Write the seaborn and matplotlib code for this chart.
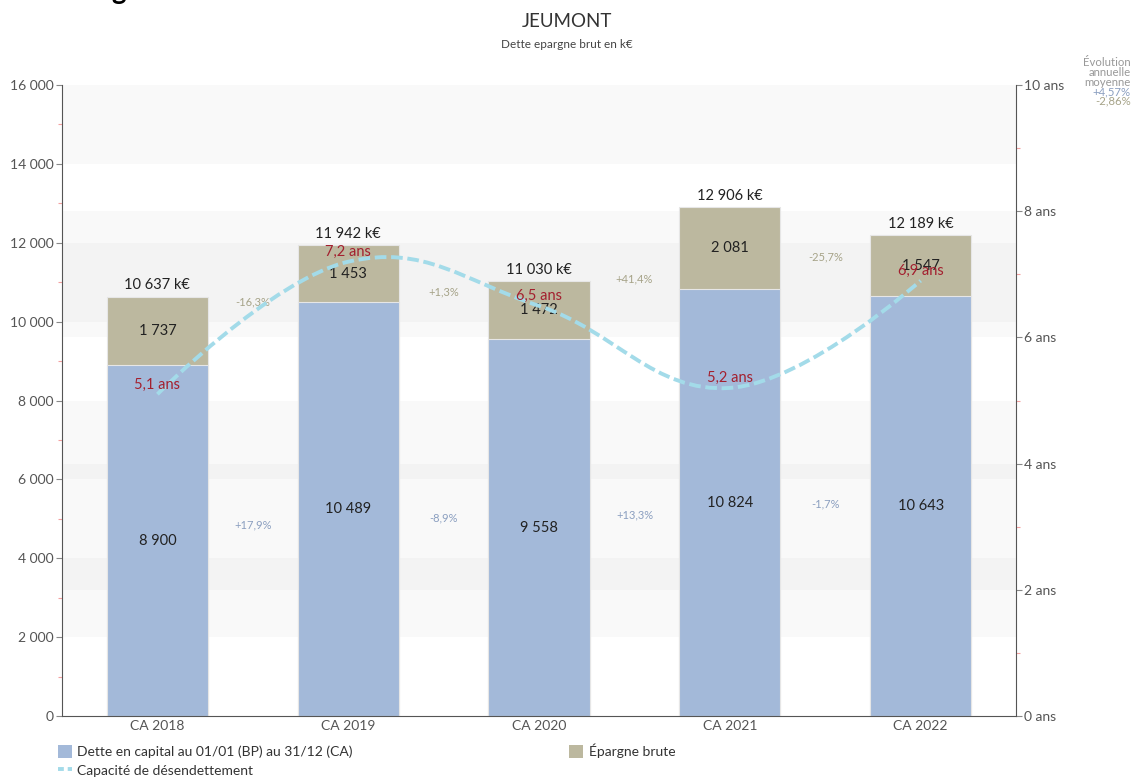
import numpy as np
import matplotlib
matplotlib.use('Agg')
import matplotlib.pyplot as plt
import seaborn as sns
from matplotlib.path import Path
from matplotlib.patches import PathPatch, Patch
from matplotlib.lines import Line2D
from matplotlib.ticker import FuncFormatter, MultipleLocator

# données
annees = ['CA 2018', 'CA 2019', 'CA 2020', 'CA 2021', 'CA 2022']
dette = [8900, 10489, 9558, 10824, 10643]
epargne = [1737, 1453, 1472, 2081, 1547]
totaux = ['10 637 k€', '11 942 k€', '11 030 k€', '12 906 k€', '12 189 k€']
capacite = [5.1, 7.2, 6.5, 5.2, 6.9]
evol_dette = [17.9, -8.9, 13.3, -1.7]
evol_epargne = [-16.3, 1.3, 41.4, -25.7]
moy_dette = 4.57
moy_epargne = -2.86

BLEU = '#a3b9d9'
BEIGE = '#bcb89f'
CYAN = '#a3dbe9'
ROUGE = '#a3202f'
TXT_BLEU = '#8b9fc0'
TXT_BEIGE = '#a6a388'

sns.set_style('white')
plt.rcParams['font.family'] = ['Lato', 'DejaVu Sans']

fig = plt.figure(figsize=(11.34, 7.8), dpi=100)
ax = fig.add_axes([0.0547, 0.082, 0.8413, 0.809])

def fmt(v):
    return f'{v:,.0f}'.replace(',', ' ')

def pct(v, d=1):
    return (f'{v:+.{d}f}%').replace('.', ',')

# bandes de fond (axe gauche tous les 2000, axe droit tous les 2 ans)
for a in [2000, 6000, 10000, 14000]:
    ax.axhspan(a, a + 2000, color='black', alpha=0.022, lw=0, zorder=0)
k = 16000 / 10
for a in [2, 6]:
    ax.axhspan(a * k, (a + 2) * k, color='black', alpha=0.022, lw=0, zorder=0)

total = np.array(dette) + np.array(epargne)
sns.barplot(x=annees, y=total, color=BEIGE, width=0.53, saturation=1,
            edgecolor='#e6e6e6', linewidth=0.8, ax=ax, zorder=2)
sns.barplot(x=annees, y=dette, color=BLEU, width=0.53, saturation=1,
            edgecolor='#e6e6e6', linewidth=0.8, ax=ax, zorder=2)

ax.set_xlim(-0.5, 4.5)
ax.set_ylim(0, 16000)
ax.yaxis.set_major_locator(MultipleLocator(2000))
ax.yaxis.set_minor_locator(MultipleLocator(1000))
ax.yaxis.set_major_formatter(FuncFormatter(lambda v, p: fmt(v)))
ax.tick_params(axis='y', which='major', length=4, color='#888', labelcolor='#555', labelsize=10, pad=2)
ax.tick_params(axis='y', which='minor', length=3, color='#f4a0a0', width=0.8)
ax.tick_params(axis='x', length=0, labelcolor='#555', labelsize=10, pad=3)
ax.set_xlabel('')
ax.set_ylabel('')
for s in ['top', 'right']:
    ax.spines[s].set_visible(False)
ax.spines['left'].set_color('#555')
ax.spines['bottom'].set_color('#555')

# étiquettes
for i in range(5):
    ax.text(i, dette[i] / 2, fmt(dette[i]), ha='center', va='center', fontsize=10.5, color='#222', zorder=5)
    ax.text(i, dette[i] + epargne[i] / 2, fmt(epargne[i]), ha='center', va='center', fontsize=10.5, color='#222', zorder=5)
    ax.annotate(totaux[i], (i, total[i]), xytext=(0, 3), textcoords='offset points',
                ha='center', va='bottom', fontsize=10.5, color='#222')
for i in range(4):
    yb = (dette[i] / 2 + dette[i + 1] / 2) / 2
    ye = (dette[i] + epargne[i] / 2 + dette[i + 1] + epargne[i + 1] / 2) / 2
    ax.text(i + 0.5, yb, pct(evol_dette[i]), ha='center', va='center', fontsize=8, color=TXT_BLEU)
    ax.text(i + 0.5, ye, pct(evol_epargne[i]), ha='center', va='center', fontsize=8, color=TXT_BEIGE)

# axe droit : capacité de désendettement (courbe lissée type spline)
ax2 = ax.twinx()
ax2.set_ylim(0, 10)
ax2.yaxis.set_major_locator(MultipleLocator(2))
ax2.yaxis.set_minor_locator(MultipleLocator(1))
ax2.yaxis.set_major_formatter(FuncFormatter(lambda v, p: f'{v:.0f} ans'))
ax2.tick_params(axis='y', which='major', length=4, color='#888', labelcolor='#555', labelsize=10, pad=2)
ax2.tick_params(axis='y', which='minor', length=3, color='#f4a0a0', width=0.8)
for s in ['top', 'left', 'bottom']:
    ax2.spines[s].set_visible(False)
ax2.spines['right'].set_color('#555')

xs = np.arange(len(capacite), dtype=float)
ys = np.array(capacite, dtype=float)
sm, den = 1.5, 2.5
lc, rc = {}, {}
for i in range(1, len(xs) - 1):
    lcx = (sm * xs[i] + xs[i - 1]) / den
    lcy = (sm * ys[i] + ys[i - 1]) / den
    rcx = (sm * xs[i] + xs[i + 1]) / den
    rcy = (sm * ys[i] + ys[i + 1]) / den
    corr = (rcy - lcy) * (rcx - xs[i]) / (rcx - lcx) + ys[i] - rcy
    lc[i] = (lcx, lcy + corr)
    rc[i] = (rcx, rcy + corr)
verts = [(xs[0], ys[0])]
codes = [Path.MOVETO]
for i in range(1, len(xs)):
    verts += [rc.get(i - 1, (xs[i - 1], ys[i - 1])), lc.get(i, (xs[i], ys[i])), (xs[i], ys[i])]
    codes += [Path.CURVE4] * 3
ax2.add_patch(PathPatch(Path(verts, codes), fill=False, edgecolor=CYAN, lw=2.8,
                        linestyle=(0, (3, 1.2)), zorder=3))
for i in range(5):
    ax2.annotate(f'{capacite[i]:.1f} ans'.replace('.', ','), (i, capacite[i]), xytext=(0, 7),
                 textcoords='offset points', ha='center', va='center', fontsize=10.5, color=ROUGE)

# titres
fig.text(0.5, 0.972, 'JEUMONT', ha='center', va='center', fontsize=13.5, color='#333')
fig.text(0.5, 0.943, 'Dette epargne brut en k€', ha='center', va='center', fontsize=8.5, color='#444')
fig.text(0.098, 1.0 + 1.5 / 780, 'g', ha='left', va='baseline', fontsize=20, fontweight='bold', color='black')

# évolution annuelle moyenne
lignes = [('Évolution', '#999'), ('annuelle', '#999'), ('moyenne', '#999'),
          (pct(moy_dette, 2), TXT_BLEU), (pct(moy_epargne, 2), TXT_BEIGE)]
for j, (t, c) in enumerate(lignes):
    fig.text(0.997, 1 - (63 + 9.5 * j) / 780, t, ha='right', va='center', fontsize=8.2, color=c)

# légende
handles = [Patch(facecolor=BLEU, edgecolor='none'),
           Line2D([0], [0], color=CYAN, lw=2.8, linestyle=(0, (1.5, 1))),
           Patch(facecolor=BEIGE, edgecolor='none')]
labels = ['Dette en capital au 01/01 (BP) au 31/12 (CA)', 'Capacité de désendettement', 'Épargne brute']
fig.legend(handles, labels, loc='upper left', bbox_to_anchor=(0.046, 0.054), ncol=2,
           frameon=False, fontsize=10, handlelength=1.0, handleheight=1.1, handletextpad=0.4,
           columnspacing=15.6, labelspacing=0.4, borderaxespad=0, labelcolor='#333')

fig.savefig('out.png', dpi=100)
